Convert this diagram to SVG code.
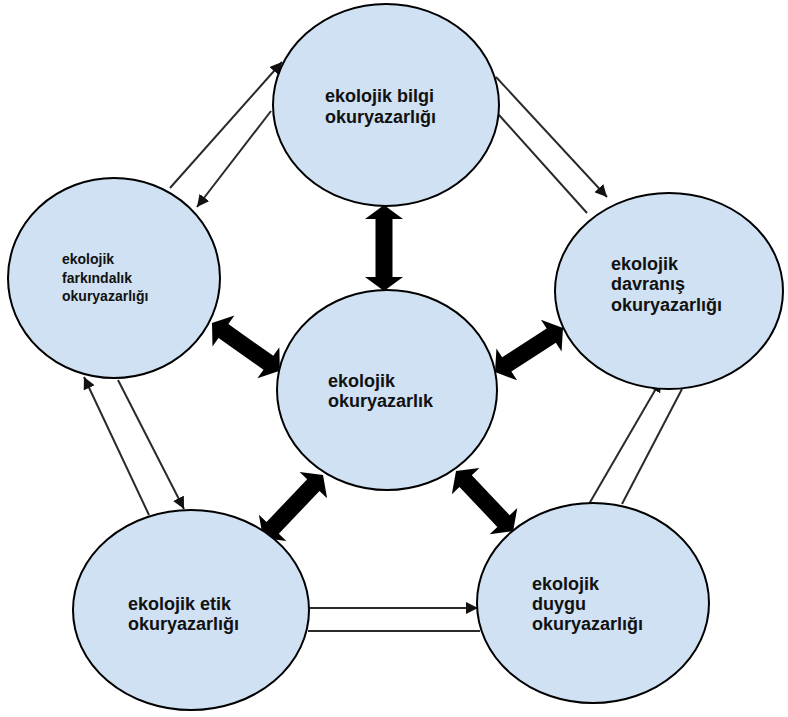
<svg xmlns="http://www.w3.org/2000/svg" width="788" height="717" viewBox="0 0 788 717">
  <style>
    .node { fill: #cfe1f2; stroke: #000; stroke-width: 2; }
    .lbl { font-family: "Liberation Sans", Arial, sans-serif; font-weight: bold; font-size: 18px; fill: #111; }
    .lbl.small { font-size: 14px; }
    .thin { fill: none; stroke: #2a2a2a; stroke-width: 2; }
    .thick { fill: #000; }
  </style>
  <defs>
    <marker id="tip" viewBox="0 0 10 10" refX="10" refY="5" markerWidth="6" markerHeight="6" markerUnits="strokeWidth" orient="auto">
      <path d="M0,0 L10,5 L0,10 Z" fill="#111"/>
    </marker>
  </defs>
  <rect width="788" height="717" fill="#fff"/>

  <g id="connectors">
    <!-- thin paired arrows between outer nodes -->
    <line class="thin" x1="170" y1="188" x2="282" y2="62" marker-end="url(#tip)"/>
    <line class="thin" x1="271" y1="111" x2="197" y2="207" marker-end="url(#tip)"/>

    <line class="thin" x1="496" y1="77" x2="607" y2="197" marker-end="url(#tip)"/>
    <line class="thin" x1="499" y1="115" x2="587" y2="213"/>

    <line class="thin" x1="149" y1="515" x2="84" y2="377" marker-end="url(#tip)"/>
    <line class="thin" x1="118" y1="380" x2="184" y2="509" marker-end="url(#tip)"/>

    <line class="thin" x1="589" y1="504" x2="661" y2="380" marker-end="url(#tip)"/>
    <line class="thin" x1="622" y1="504" x2="682" y2="389"/>

    <line class="thin" x1="308" y1="608" x2="478" y2="608" marker-end="url(#tip)"/>
    <line class="thin" x1="308" y1="631" x2="480" y2="631"/>

    <!-- thick double-headed arrows to the centre -->
    <path class="thick" transform="translate(384,205) rotate(90)" d="M0,0 L14,-19 L14,-8.5 L72,-8.5 L72,-19 L86,0 L72,19 L72,8.5 L14,8.5 L14,19 Z"/>
    <path class="thick" transform="translate(212,323) rotate(35.2)" d="M0,0 L14,-19 L14,-8.5 L69,-8.5 L69,-19 L83,0 L69,19 L69,8.5 L14,8.5 L14,19 Z"/>
    <path class="thick" transform="translate(495,372) rotate(-32.9)" d="M0,0 L14,-19 L14,-8.5 L67,-8.5 L67,-19 L81,0 L67,19 L67,8.5 L14,8.5 L14,19 Z"/>
    <path class="thick" transform="translate(263,538) rotate(-46.4)" d="M0,0 L14,-19 L14,-8.5 L73,-8.5 L73,-19 L87,0 L73,19 L73,8.5 L14,8.5 L14,19 Z"/>
    <path class="thick" transform="translate(456,471) rotate(46.5)" d="M0,0 L14,-19 L14,-8.5 L69,-8.5 L69,-19 L83,0 L69,19 L69,8.5 L14,8.5 L14,19 Z"/>
  </g>

  <g id="node-bilgi">
    <ellipse class="node" cx="386" cy="105" rx="113" ry="101"/>
    <text class="lbl" x="325" y="102">ekolojik bilgi</text>
    <text class="lbl" x="325" y="123">okuryazarlığı</text>
  </g>

  <g id="node-farkindalik">
    <ellipse class="node" cx="114" cy="278" rx="106" ry="100"/>
    <text class="lbl small" x="62" y="264">ekolojik</text>
    <text class="lbl small" x="62" y="283">farkındalık</text>
    <text class="lbl small" x="62" y="301">okuryazarlığı</text>
  </g>

  <g id="node-davranis">
    <ellipse class="node" cx="669" cy="291" rx="114" ry="98"/>
    <text class="lbl" x="611" y="270">ekolojik</text>
    <text class="lbl" x="611" y="290">davranış</text>
    <text class="lbl" x="611" y="311">okuryazarlığı</text>
  </g>

  <g id="node-merkez">
    <ellipse class="node" cx="387" cy="390" rx="110" ry="100"/>
    <text class="lbl" x="328" y="387">ekolojik</text>
    <text class="lbl" x="328" y="407">okuryazarlık</text>
  </g>

  <g id="node-etik">
    <ellipse class="node" cx="191" cy="610" rx="118" ry="100"/>
    <text class="lbl" x="128" y="610">ekolojik etik</text>
    <text class="lbl" x="128" y="630">okuryazarlığı</text>
  </g>

  <g id="node-duygu">
    <ellipse class="node" cx="593" cy="603" rx="116" ry="100"/>
    <text class="lbl" x="532" y="590">ekolojik</text>
    <text class="lbl" x="532" y="610">duygu</text>
    <text class="lbl" x="532" y="630">okuryazarlığı</text>
  </g>
</svg>
